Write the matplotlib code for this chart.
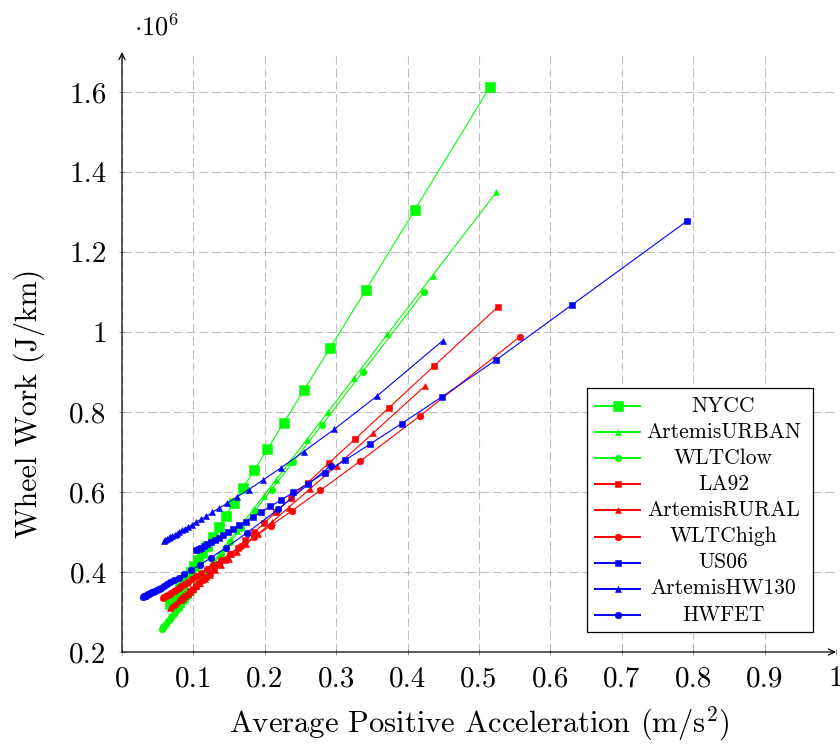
import matplotlib
matplotlib.use("Agg")
import matplotlib.pyplot as plt
from matplotlib.lines import Line2D
from matplotlib.patches import Rectangle

plt.rcParams['font.family'] = 'serif'
plt.rcParams['font.serif'] = ['cmr10']
plt.rcParams['mathtext.fontset'] = 'cm'
plt.rcParams['axes.formatter.use_mathtext'] = True
plt.rcParams['axes.unicode_minus'] = False

# ---------------- data (x: average positive acceleration m/s^2, y: wheel work in 10^6 J/km)
nycc_x = [0.515, 0.4104, 0.3411, 0.2918, 0.2549, 0.2264, 0.2036, 0.1849, 0.1694, 0.1563, 0.1451, 0.1353, 0.1268, 0.1194,
          0.1127, 0.1067, 0.1014, 0.0965, 0.0921, 0.0881, 0.0844, 0.0810, 0.0779, 0.0750, 0.0723, 0.0698, 0.0675]
nycc_y = [1.612, 1.306, 1.104, 0.961, 0.855, 0.773, 0.707, 0.654, 0.609, 0.572, 0.540, 0.512, 0.488, 0.466,
          0.447, 0.430, 0.415, 0.401, 0.389, 0.377, 0.367, 0.357, 0.348, 0.340, 0.333, 0.325, 0.319]

urban_x = [0.524, 0.4349, 0.3716, 0.3245, 0.2879, 0.2588, 0.2350, 0.2152, 0.1985, 0.1842, 0.1718, 0.1610, 0.1514, 0.1430,
           0.1354, 0.1286, 0.1224, 0.1169, 0.1117, 0.1071, 0.1028, 0.0988, 0.0951, 0.0917, 0.0885, 0.0856, 0.0828]
urban_y = [1.349, 1.141, 0.994, 0.884, 0.799, 0.731, 0.676, 0.629, 0.591, 0.557, 0.528, 0.503, 0.481, 0.461,
           0.443, 0.428, 0.413, 0.400, 0.388, 0.378, 0.368, 0.358, 0.350, 0.342, 0.334, 0.327, 0.321]

wltclow_x = [0.423, 0.3370, 0.2802, 0.2397, 0.2094, 0.1860, 0.1672, 0.1519, 0.1391, 0.1284, 0.1192, 0.1112, 0.1042, 0.0980,
             0.0926, 0.0877, 0.0833, 0.0793, 0.0757, 0.0724, 0.0693, 0.0666, 0.0640, 0.0616, 0.0594, 0.0574, 0.0554]
wltclow_y = [1.100, 0.900, 0.768, 0.675, 0.606, 0.553, 0.510, 0.475, 0.446, 0.422, 0.401, 0.383, 0.367, 0.353,
             0.341, 0.330, 0.320, 0.311, 0.303, 0.296, 0.288, 0.282, 0.277, 0.271, 0.266, 0.262, 0.257]

la92_x = [0.5266, 0.4370, 0.3735, 0.3261, 0.2894, 0.2600, 0.2361, 0.2163, 0.1995, 0.1851, 0.1727, 0.1618, 0.1522, 0.1437,
          0.1361, 0.1292, 0.1230, 0.1174, 0.1123, 0.1076, 0.1033, 0.0993, 0.0956, 0.0922, 0.0889, 0.0860, 0.0832]
la92_y = [1.063, 0.915, 0.810, 0.732, 0.672, 0.623, 0.584, 0.551, 0.523, 0.499, 0.479, 0.461, 0.445, 0.431,
          0.419, 0.407, 0.397, 0.388, 0.379, 0.372, 0.364, 0.358, 0.352, 0.346, 0.341, 0.336, 0.331]

rural_x = [0.4244, 0.3522, 0.3010, 0.2628, 0.2332, 0.2096, 0.1903, 0.1743, 0.1608, 0.1492, 0.1392, 0.1304, 0.1227, 0.1158,
           0.1097, 0.1041, 0.0991, 0.0946, 0.0905, 0.0867, 0.0832, 0.0800, 0.0770, 0.0743, 0.0717, 0.0693, 0.0670]
rural_y = [0.865, 0.748, 0.666, 0.607, 0.561, 0.524, 0.495, 0.470, 0.450, 0.432, 0.417, 0.404, 0.393, 0.382,
           0.373, 0.365, 0.357, 0.351, 0.345, 0.339, 0.334, 0.329, 0.325, 0.321, 0.317, 0.313, 0.310]

wltchigh_x = [0.557, 0.4172, 0.3335, 0.2778, 0.2381, 0.2082, 0.1850, 0.1665, 0.1513, 0.1387, 0.1281, 0.1189, 0.1110, 0.1040,
              0.0979, 0.0925, 0.0876, 0.0832, 0.0792, 0.0756, 0.0724, 0.0693, 0.0666, 0.0640, 0.0616, 0.0594, 0.0574]
wltchigh_y = [0.988, 0.790, 0.677, 0.604, 0.553, 0.516, 0.487, 0.464, 0.446, 0.430, 0.418, 0.407, 0.397, 0.389,
              0.382, 0.375, 0.369, 0.364, 0.360, 0.355, 0.352, 0.348, 0.345, 0.342, 0.339, 0.337, 0.334]

us06_x = [0.791, 0.6303, 0.5239, 0.4482, 0.3915, 0.3477, 0.3127, 0.2840, 0.2602, 0.2401, 0.2228, 0.2079, 0.1948, 0.1833,
          0.1731, 0.1639, 0.1557, 0.1483, 0.1415, 0.1353, 0.1297, 0.1245, 0.1197, 0.1152, 0.1111, 0.1073, 0.1037]
us06_y = [1.277, 1.068, 0.930, 0.838, 0.771, 0.720, 0.680, 0.648, 0.621, 0.599, 0.580, 0.564, 0.550, 0.537,
          0.526, 0.517, 0.508, 0.500, 0.493, 0.486, 0.481, 0.475, 0.470, 0.465, 0.461, 0.457, 0.454]

hw130_x = [0.449, 0.3578, 0.2974, 0.2544, 0.2223, 0.1974, 0.1775, 0.1612, 0.1477, 0.1363, 0.1265, 0.1180, 0.1106, 0.1041,
           0.0982, 0.0931, 0.0884, 0.0842, 0.0803, 0.0768, 0.0736, 0.0707, 0.0679, 0.0654, 0.0631, 0.0609, 0.0588]
hw130_y = [0.978, 0.841, 0.757, 0.701, 0.660, 0.630, 0.606, 0.588, 0.572, 0.560, 0.549, 0.539, 0.532, 0.525,
           0.518, 0.513, 0.508, 0.504, 0.500, 0.496, 0.493, 0.490, 0.487, 0.485, 0.482, 0.480, 0.478]

hwfet_x = [0.2923, 0.2190, 0.1750, 0.1458, 0.1249, 0.1093, 0.0971, 0.0874, 0.0794, 0.0728, 0.0672, 0.0624, 0.0582, 0.0546,
           0.0514, 0.0485, 0.0459, 0.0437, 0.0416, 0.0397, 0.0380, 0.0364, 0.0349, 0.0336, 0.0323, 0.0312, 0.0301]
hwfet_y = [0.666, 0.557, 0.498, 0.461, 0.436, 0.418, 0.405, 0.395, 0.386, 0.379, 0.374, 0.369, 0.365, 0.361,
           0.358, 0.355, 0.353, 0.351, 0.349, 0.347, 0.345, 0.344, 0.342, 0.341, 0.340, 0.339, 0.338]

series_names = ['NYCC', 'ArtemisURBAN', 'WLTClow', 'LA92', 'ArtemisRURAL', 'WLTChigh', 'US06', 'ArtemisHW130', 'HWFET']
series_x = [nycc_x, urban_x, wltclow_x, la92_x, rural_x, wltchigh_x, us06_x, hw130_x, hwfet_x]
series_y = [nycc_y, urban_y, wltclow_y, la92_y, rural_y, wltchigh_y, us06_y, hw130_y, hwfet_y]

x_ticks = [0, 0.1, 0.2, 0.3, 0.4, 0.5, 0.6, 0.7, 0.8, 0.9, 1.0]
y_ticks = [0.2, 0.4, 0.6, 0.8, 1.0, 1.2, 1.4, 1.6]

# ---------------- styles
GREEN, RED, BLUE = '#00ff00', '#ff0000', '#0000ff'
styles = [
    dict(color=GREEN, marker='s', ms=6.8),
    dict(color=GREEN, marker='^', ms=4.2),
    dict(color=GREEN, marker='o', ms=4.8),
    dict(color=RED, marker='s', ms=4.8),
    dict(color=RED, marker='^', ms=4.6),
    dict(color=RED, marker='o', ms=4.8),
    dict(color=BLUE, marker='s', ms=5.0),
    dict(color=BLUE, marker='^', ms=4.4),
    dict(color=BLUE, marker='o', ms=4.8),
]

W, H = 840, 744
fig = plt.figure(figsize=(W / 100, H / 100), dpi=100)
ax = fig.add_axes([122 / W, 92 / H, 714 / W, 600 / H])
ax.set_xlim(0, 1)
ax.set_ylim(0.2, 1.7)

for xs, ys, st in zip(series_x, series_y, styles):
    ax.plot(xs, ys, color=st['color'], lw=0.8, marker=st['marker'], ms=st['ms'],
            mfc=st['color'], mec=st['color'], mew=0.4, zorder=3)

ax.set_xticks(x_ticks)
ax.set_xticklabels([f'{t:g}' for t in x_ticks])
ax.set_yticks(y_ticks)
ax.set_yticklabels([f'{t:g}' for t in y_ticks])
ax.tick_params(direction='inout', length=4, width=0.6, color='#888888', labelsize=21)
ax.tick_params(axis='x', pad=8)
ax.tick_params(axis='y', pad=9)

ax.grid(True, color='#c0c0c0', linestyle=(0, (8, 3.5)), linewidth=0.8, zorder=0)
ax.set_axisbelow(True)
for sp in ax.spines.values():
    sp.set_visible(False)
arrow = dict(arrowstyle='->,head_length=0.45,head_width=0.22', lw=0.9, color='black', shrinkA=0, shrinkB=0)
ax.annotate('', xy=(1.0, 0), xytext=(0, 0), xycoords='axes fraction', arrowprops=arrow, zorder=5)
ax.annotate('', xy=(0, 1.0), xytext=(0, 0), xycoords='axes fraction', arrowprops=arrow, zorder=5)

ax.set_xlabel(r'Average Positive Acceleration (m/s$^2$)', fontsize=22)
ax.xaxis.set_label_coords(0.5, -0.088)
ax.set_ylabel('Wheel Work (J/km)', fontsize=21.5)
ax.yaxis.set_label_coords(-0.108, 0.415)

fig.text(134 / W, 1 - 36 / H, r'$\cdot10^{6}$', fontsize=19, ha='left', va='baseline')

# ---------------- legend (pgfplots style: centred text)
px2ax_x = lambda px: (px - 122) / 714
px2ax_y = lambda py: (652 - py) / 600
lx0, lx1 = px2ax_x(587), px2ax_x(813)
ly0, ly1 = px2ax_y(632), px2ax_y(388)
ax.add_patch(Rectangle((lx0, ly0), lx1 - lx0, ly1 - ly0, transform=ax.transAxes,
                       facecolor='white', edgecolor='black', lw=0.9, zorder=10))
for i, (name, st) in enumerate(zip(series_names, styles)):
    yy = px2ax_y(406 + i * 26.1)
    ax.add_line(Line2D([px2ax_x(595), px2ax_x(640)], [yy, yy], transform=ax.transAxes,
                       color=st['color'], lw=1.4, zorder=11))
    ax.add_line(Line2D([px2ax_x(617.5)], [yy], transform=ax.transAxes, color=st['color'],
                       marker=st['marker'], ms=st['ms'], mfc=st['color'], mec=st['color'],
                       mew=0.4, zorder=12))
    ax.text(px2ax_x(723.5), yy, name, transform=ax.transAxes, ha='center', va='center',
            fontsize=15.5, zorder=13)

fig.savefig('out.png', dpi=100)
